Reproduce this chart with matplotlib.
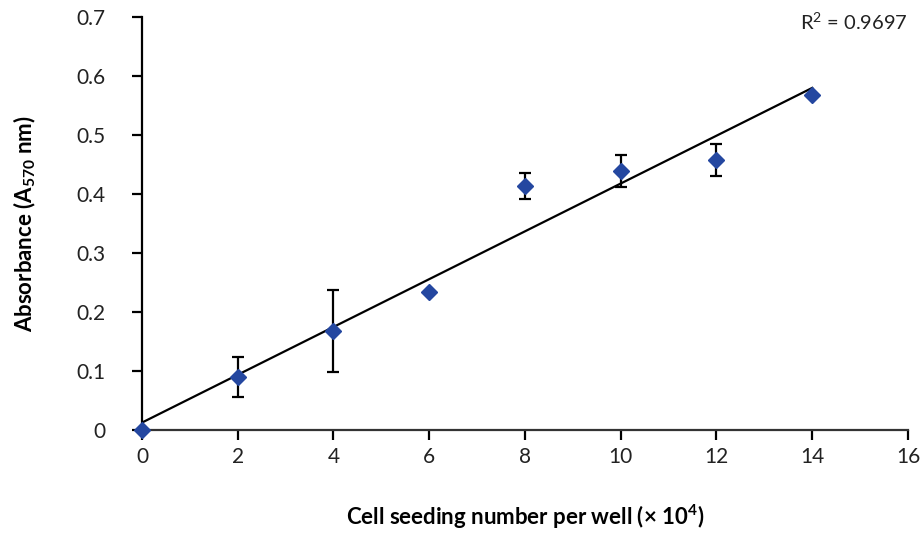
import numpy as np
import matplotlib
matplotlib.use("Agg")
import matplotlib.pyplot as plt

plt.rcParams['font.family'] = ['Lato', 'DejaVu Sans']
plt.rcParams['mathtext.fontset'] = 'custom'
plt.rcParams['mathtext.rm'] = 'Lato'
plt.rcParams['mathtext.bf'] = 'Lato:bold'

cells = [0, 2, 4, 6, 8, 10, 12, 14]
absorbance = [0.0, 0.090, 0.168, 0.234, 0.413, 0.439, 0.458, 0.568]
errors = [0.0, 0.034, 0.070, 0.0, 0.022, 0.027, 0.027, 0.0]
r2_text = "R$^2$ = 0.9697"
xticks = [0, 2, 4, 6, 8, 10, 12, 14, 16]
yticks = [0, 0.1, 0.2, 0.3, 0.4, 0.5, 0.6, 0.7]
ytick_labels = ["0", "0.1", "0.2", "0.3", "0.4", "0.5", "0.6", "0.7"]

fig = plt.figure(figsize=(9.23, 5.33), dpi=100)
ax = fig.add_axes([0.1538, 0.1932, 0.8299, 0.7748])

slope, intercept = np.polyfit(cells, absorbance, 1)
xl = np.array([0, 14])
ax.plot(xl, slope * xl + intercept, color='black', lw=1.6, zorder=2)

ax.errorbar(cells, absorbance, yerr=errors, fmt='none', ecolor='black',
            elinewidth=1.6, capsize=4.5, capthick=1.6, zorder=3)
ax.plot(cells, absorbance, linestyle='none', marker='D', markersize=8,
        color='#2447a0', zorder=4, clip_on=False)

ax.set_xlim(0, 16)
ax.set_ylim(0, 0.7)
ax.set_xticks(xticks)
ax.set_yticks(yticks)
ax.set_yticklabels(ytick_labels)
for s in ['top', 'right']:
    ax.spines[s].set_visible(False)
ax.spines['left'].set_linewidth(1.6)
ax.spines['bottom'].set_linewidth(1.6)
ax.spines['bottom'].set_color('#333333')
ax.tick_params(axis='both', direction='out', length=7, width=1.6,
               labelsize=15, colors='black', labelcolor='#222222')
ax.tick_params(axis='y', pad=19)
ax.tick_params(axis='x', pad=5)

ax.set_xlabel("Cell seeding number per well (× 10$^\\mathbf{4}$)",
              fontsize=16, fontweight='bold', labelpad=26)
ax.set_ylabel("Absorbance (A$_\\mathbf{570}$ nm)", fontsize=16,
              fontweight='bold', labelpad=28)

ax.text(1.0, 0.988, r2_text, transform=ax.transAxes, ha='right', va='center',
        fontsize=14.5, color='#222222')

fig.savefig("out.png", dpi=100)
